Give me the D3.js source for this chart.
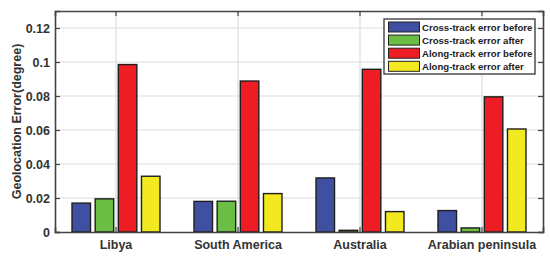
<!DOCTYPE html>
<html><head><meta charset="utf-8">
<script src="https://cdn.jsdelivr.net/npm/d3@7"></script>
<style>body{margin:0;background:#fff}svg{display:block}</style>
</head><body>
<script>
const categories = ["Libya", "South America", "Australia", "Arabian peninsula"];
const seriesNames = ["Cross-track error before", "Cross-track error after", "Along-track error before", "Along-track error after"];
const crossBefore = [0.0170, 0.0180, 0.0318, 0.0126];
const crossAfter  = [0.0195, 0.0181, 0.0010, 0.0024];
const alongBefore = [0.0985, 0.0888, 0.0957, 0.0795];
const alongAfter  = [0.0328, 0.0226, 0.0120, 0.0606];
const yTicks = [0, 0.02, 0.04, 0.06, 0.08, 0.1, 0.12];
const colors = ["#3F50A2", "#6BBE44", "#EE1D25", "#F2E920"];
const series = [crossBefore, crossAfter, alongBefore, alongAfter];

const W = 550, H = 257;
const m = {left: 55, right: 7, top: 11, bottom: 25};
const svg = d3.select("body").append("svg").attr("width", W).attr("height", H);
const x = d3.scaleBand().domain(categories).range([m.left, W - m.right]).padding(0);
const y = d3.scaleLinear().domain([0, 0.13]).range([H - m.bottom, m.top]);
const sub = d3.scaleBand().domain(d3.range(4)).range([0, 88]).paddingInner(0.2).paddingOuter(0);
const font = "Arial, 'Liberation Sans', sans-serif";

// grid
const g = svg.append("g");
g.selectAll(".hg").data(yTicks.filter(d => d > 0)).join("line")
  .attr("x1", m.left).attr("x2", W - m.right)
  .attr("y1", d => y(d)).attr("y2", d => y(d))
  .attr("stroke", "#dedede").attr("stroke-width", 1.2);
g.selectAll(".vg").data(categories).join("line")
  .attr("x1", d => x(d) + x.bandwidth()/2).attr("x2", d => x(d) + x.bandwidth()/2)
  .attr("y1", m.top).attr("y2", H - m.bottom)
  .attr("stroke", "#dedede").attr("stroke-width", 1.2);

// bars
series.forEach((vals, si) => {
  svg.append("g").selectAll("rect").data(vals).join("rect")
    .attr("x", (d, i) => x(categories[i]) + x.bandwidth()/2 - 44 + sub(si))
    .attr("width", sub.bandwidth())
    .attr("y", d => y(d))
    .attr("height", d => y(0) - y(d))
    .attr("fill", colors[si])
    .attr("stroke", "#1e1e1e").attr("stroke-width", 1.4);
});

// axes
const axisColor = "#444";
const yAxis = svg.append("g").attr("transform", `translate(${m.left},0)`)
  .call(d3.axisLeft(y).tickValues(yTicks).tickSize(-5).tickPadding(5).tickFormat(d => d3.format("")(+d.toFixed(2))));
const yAxisR = svg.append("g").attr("transform", `translate(${W - m.right},0)`)
  .call(d3.axisRight(y).tickValues(yTicks).tickSize(-5).tickFormat(""));
const xAxis = svg.append("g").attr("transform", `translate(0,${H - m.bottom})`)
  .call(d3.axisBottom(x).tickSize(-5).tickPadding(8));
const xAxisT = svg.append("g").attr("transform", `translate(0,${m.top})`)
  .call(d3.axisTop(x).tickSize(-5).tickFormat(""));
[yAxis, yAxisR, xAxis, xAxisT].forEach(a => {
  a.select(".domain").attr("stroke", axisColor).attr("stroke-width", 1.6);
  a.selectAll(".tick line").attr("stroke", axisColor).attr("stroke-width", 1.2);
  a.selectAll("text").attr("fill", "#333").style("font-family", font).style("font-weight", "bold");
});
yAxis.selectAll("text").style("font-size", "12.5px");
xAxis.selectAll("text").style("font-size", "12.5px");

svg.append("text")
  .attr("transform", `translate(20.5,${(m.top + H - m.bottom)/2}) rotate(-90)`)
  .attr("text-anchor", "middle")
  .style("font-family", font).style("font-weight", "bold").style("font-size", "12.5px")
  .attr("fill", "#333").text("Geolocation Error(degree)");

// legend
const lg = svg.append("g");
lg.append("rect").attr("x", 384).attr("y", 19).attr("width", 151).attr("height", 55)
  .attr("fill", "#fff").attr("stroke", "#333").attr("stroke-width", 1.3);
seriesNames.forEach((nm, i) => {
  const cy = 27 + i * 13.1;
  lg.append("rect").attr("x", 388.5).attr("y", cy - 5).attr("width", 31).attr("height", 10)
    .attr("fill", colors[i]).attr("stroke", "#222").attr("stroke-width", 1);
  lg.append("text").attr("x", 422).attr("y", cy + 3.6)
    .style("font-family", font).style("font-weight", "bold").style("font-size", "9.6px")
    .attr("fill", "#222").text(nm);
});
</script>
</body></html>
